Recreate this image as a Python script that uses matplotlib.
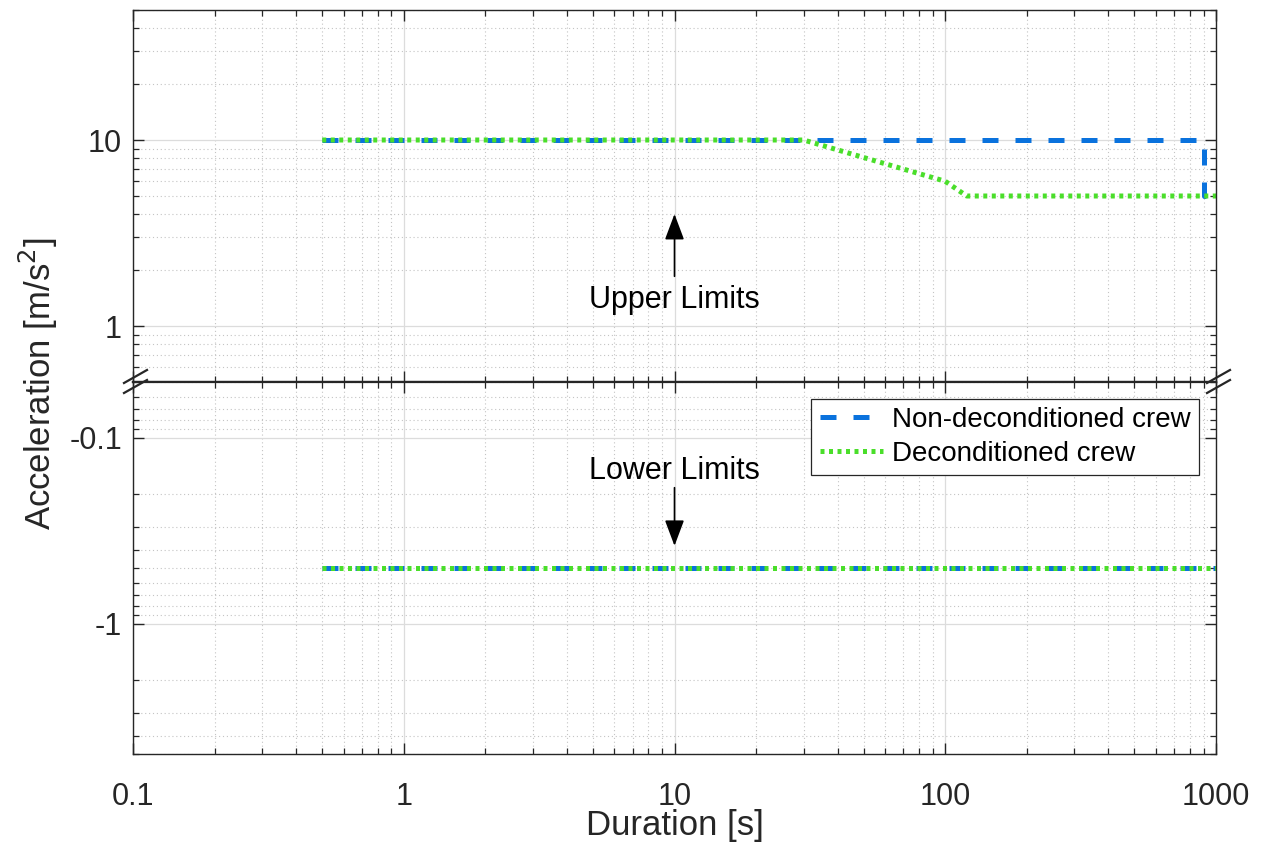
"""Acceleration limits vs duration, with a broken log y axis."""

import matplotlib
matplotlib.use('Agg')
import matplotlib.pyplot as plt
from matplotlib.lines import Line2D
import numpy as np

plt.rcParams['font.family'] = ['Liberation Sans', 'DejaVu Sans']

# Upper limits (positive acceleration, m/s^2)
dur_nondecond = [0.5, 900, 900, 1000]
acc_nondecond = [10, 10, 5, 5]
dur_decond = [0.5, 30, 100, 120, 1000]
acc_decond = [10, 10, 6, 5, 5]

# Lower limits (negative acceleration, m/s^2)
dur_lower = [0.5, 1000]
acc_lower_nondecond = [-0.5, -0.5]
acc_lower_decond = [-0.5, -0.5]

labels = ['Non-deconditioned crew', 'Deconditioned crew']
x_ticks = [0.1, 1, 10, 100, 1000]
x_ticklabels = ['0.1', '1', '10', '100', '1000']

BLUE = '#0a72dd'
GREEN = '#4ade2a'
AXCOL = '#262626'

fig = plt.figure(figsize=(12.61, 8.5), dpi=100)
left, right = 133 / 1261, 1216 / 1261
y_top, y_mid, y_bot = 1 - 10 / 850, 1 - 382 / 850, 1 - 754 / 850
ax_up = fig.add_axes([left, y_mid, right - left, y_top - y_mid])
ax_lo = fig.add_axes([left, y_bot, right - left, y_mid - y_bot])

lw = 3.6
blue_kw = dict(color=BLUE, lw=lw, dashes=(3.2, 3.4), solid_capstyle='butt',
               dash_capstyle='butt')
green_kw = dict(color=GREEN, lw=lw, dashes=(0.8, 0.9), dash_capstyle='butt')

ax_up.plot(dur_nondecond, acc_nondecond, **blue_kw)
ax_up.plot(dur_decond, acc_decond, **green_kw)

# lower panel is plotted as magnitude on an inverted log axis
ax_lo.plot(dur_lower, np.abs(acc_lower_nondecond), **blue_kw)
ax_lo.plot(dur_lower, np.abs(acc_lower_decond), **green_kw)

for ax in (ax_up, ax_lo):
    ax.set_xscale('log')
    ax.set_yscale('log')
    ax.set_xlim(0.1, 1000)
    ax.grid(True, which='major', color='#dcdcdc', lw=0.9, ls='-')
    ax.grid(True, which='minor', color='#c4c4c4', lw=0.8, ls=(0, (1, 2.5)))
    ax.set_axisbelow(True)
    ax.tick_params(which='both', direction='in', top=True, right=True,
                   colors=AXCOL, labelsize=22, labelcolor=AXCOL)
    ax.tick_params(which='major', length=8, width=1)
    ax.tick_params(which='minor', length=4.5, width=0.9)
    for s in ax.spines.values():
        s.set_color(AXCOL)
        s.set_linewidth(1.0)
    ax.set_xticks(x_ticks)

ax_up.set_ylim(0.5, 50)
ax_up.set_yticks([1, 10], ['1', '10'])
ax_up.tick_params(axis='x', labelbottom=False)
ax_up.spines['bottom'].set_linewidth(1.6)

ax_lo.set_ylim(5, 0.05)
ax_lo.set_yticks([0.1, 1], ['-0.1', '-1'])
ax_lo.set_xticks(x_ticks, x_ticklabels)
ax_lo.tick_params(axis='x', pad=20)
ax_lo.tick_params(axis='y', pad=8)
ax_up.tick_params(axis='y', pad=8)
ax_lo.spines['top'].set_linewidth(1.6)
for ax in (ax_up, ax_lo):
    ax.yaxis.set_minor_formatter(plt.NullFormatter())
    ax.xaxis.set_minor_formatter(plt.NullFormatter())

# annotations
arrow_kw = dict(arrowstyle='-|>,head_length=0.8,head_width=0.3',
                color='black', lw=1.2, shrinkA=0, shrinkB=0, mutation_scale=20)
ax_up.annotate('', xy=(10, 4.0), xytext=(10, 1.85), arrowprops=arrow_kw)
ax_up.text(10, 1.38, 'Upper Limits', ha='center', va='center', fontsize=22)
ax_lo.annotate('', xy=(10, 0.38), xytext=(10, 0.185), arrowprops=arrow_kw)
ax_lo.text(10, 0.15, 'Lower Limits', ha='center', va='center', fontsize=22)

# legend
handles = [Line2D([], [], **blue_kw), Line2D([], [], **green_kw)]
leg = ax_lo.legend(handles, labels, loc='upper right', fontsize=20,
                   handlelength=2.3, handletextpad=0.32, borderpad=0.3,
                   labelspacing=0.28, borderaxespad=0.6, fancybox=False,
                   framealpha=1, edgecolor=AXCOL)
leg.get_frame().set_linewidth(0.9)

# axis break marks
for xpix in (133, 1216):
    for dy in (0, 10):
        x0, y0 = (xpix - 9) / 1261, 1 - (383 + dy) / 850
        x1, y1 = (xpix + 14) / 1261, 1 - (370 + dy) / 850
        fig.add_artist(Line2D([x0, x1], [y0, y1], color=AXCOL, lw=1.6,
                              transform=fig.transFigure))

fig.text(38 / 1261, 1 - 384 / 850, 'Acceleration [m/s$^2$]', rotation=90,
         ha='center', va='center', fontsize=25, color=AXCOL)
fig.text((left + right) / 2, 1 - 826 / 850, 'Duration [s]',
         ha='center', va='center', fontsize=25, color=AXCOL)

fig.savefig('out.png', dpi=100)
